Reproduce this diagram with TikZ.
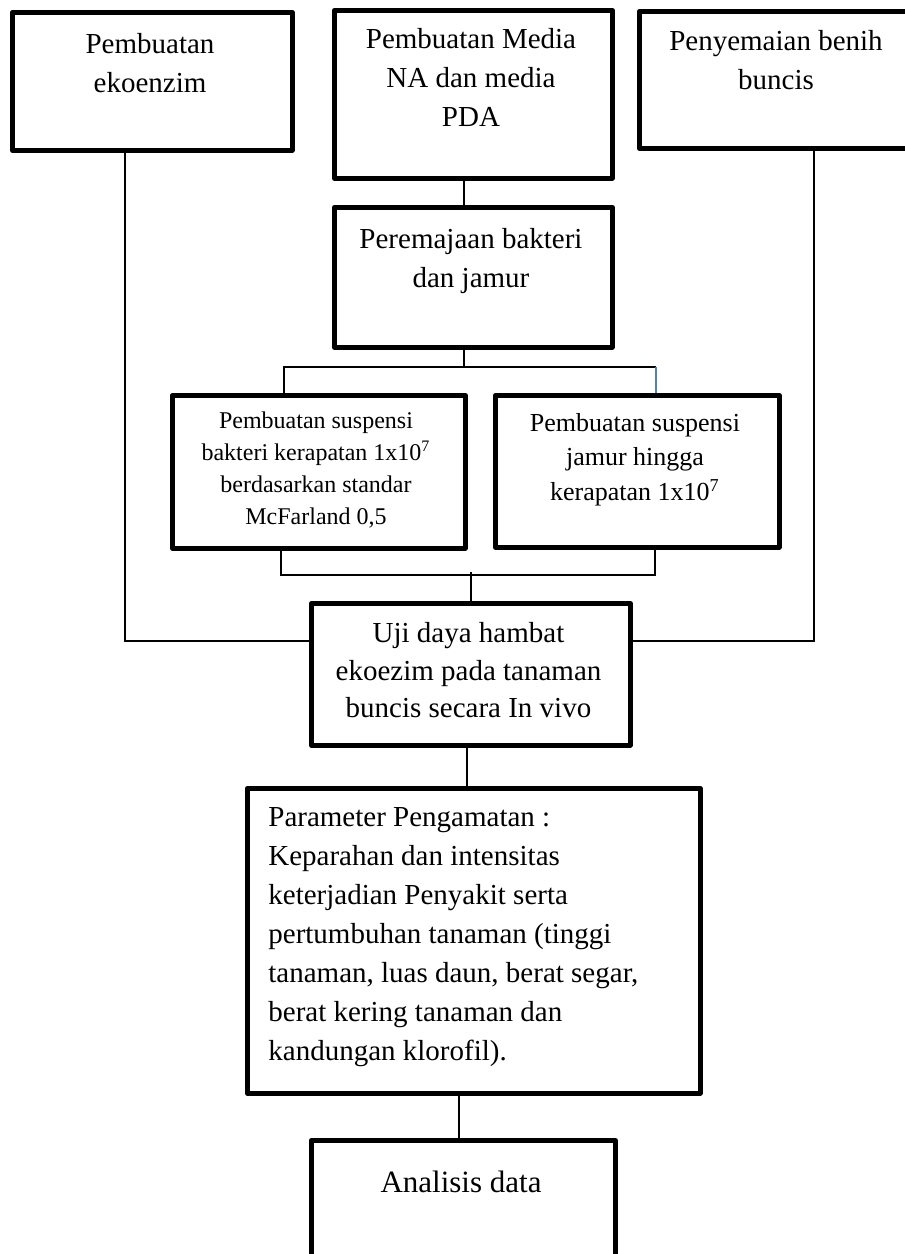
\documentclass[tikz,border=0pt]{standalone}
\usepackage{fontspec}
\setmainfont{Liberation Serif}
\definecolor{tickblue}{RGB}{79,129,189}
\begin{document}
\begin{tikzpicture}[x=0.5pt,y=-0.5pt,
  box/.style={draw, line width=2.25pt, line join=round, inner sep=0pt, anchor=north west},
  conn/.style={line width=0.75pt},
  big/.style={inner sep=0pt, align=center, anchor=north, font=\fontsize{14.5}{19.5}\selectfont},
  smalltxt/.style={inner sep=0pt, align=center, anchor=north, font=\fontsize{12}{16}\selectfont},
  midtxt/.style={inner sep=0pt, align=center, anchor=north, font=\fontsize{13}{17.25}\selectfont},
]
\useasboundingbox (0,0) rectangle (905,1254);
% boxes
\node[box, minimum width=140pt, minimum height=69pt] (b1) at (10,10) {};
\node[box, minimum width=139pt, minimum height=84pt] (b2) at (332,8) {};
\node[box, minimum width=139pt, minimum height=68.5pt] (b3) at (637,9) {};
\node[box, minimum width=139pt, minimum height=70pt] (b4) at (332,205) {};
\node[box, minimum width=146.5pt, minimum height=76.5pt] (b5) at (170,393) {};
\node[box, minimum width=142pt, minimum height=76pt] (b6) at (493,393) {};
\node[box, minimum width=159.5pt, minimum height=71pt] (b7) at (309,601) {};
\node[box, minimum width=226.5pt, minimum height=152.5pt] (b8) at (245,786) {};
\node[box, minimum width=152pt, minimum height=76pt] (b9) at (309,1138) {};
% texts
\node[big] (t1) at (150,33) {Pembuatan\\ekoenzim};
\node[big] (t2) at (471,28) {Pembuatan Media\\NA dan media\\PDA};
\node[big] (t3) at (776,30) {Penyemaian benih\\buncis};
\node[big] (t4) at (471,228) {Peremajaan bakteri\\dan jamur};
\node[smalltxt] (t5) at (316,411) {Pembuatan suspensi\\bakteri kerapatan 1x10\textsuperscript{7}\\berdasarkan standar\\McFarland 0,5};
\node[midtxt] (t6) at (635,413) {Pembuatan suspensi\\jamur hingga\\kerapatan 1x10\textsuperscript{7}};
\node[big, font=\fontsize{14.5}{18.75}\selectfont] (t7) at (468.5,622) {Uji daya hambat\\ekoezim pada tanaman\\buncis secara In vivo};
\node[big, align=left, anchor=north west] (t8) at (268,807) {Parameter Pengamatan :\\Keparahan dan intensitas\\keterjadian Penyakit serta\\pertumbuhan tanaman (tinggi\\tanaman, luas daun, berat segar,\\berat kering tanaman dan\\kandungan klorofil).};
\node[big, font=\fontsize{15.5}{19.5}\selectfont] (t9) at (461,1171) {Analisis data};
% connectors
\coordinate (jL) at (125,641);
\coordinate (jR) at (814,641);
\draw[conn] (jL |- b1.south) -- (jL) -- (jL -| b7.west);
\draw[conn] (jR |- b3.south) -- (jR) -- (jR -| b7.east);
\coordinate (m1) at (464,0);
\draw[conn] (m1 |- b2.south) -- (m1 |- b4.north);
\coordinate (s1) at (464,367);
\coordinate (s1l) at (284,367);
\coordinate (s1r) at (656,367);
\draw[conn] (s1 |- b4.south) -- (s1);
\draw[conn] (s1l |- b5.north) -- (s1l) -- (s1r);
\draw[conn, tickblue] (s1r) -- (s1r |- b6.north);
\coordinate (s2l) at (281,575);
\coordinate (s2r) at (655,575);
\coordinate (s2c) at (471,572);
\draw[conn] (s2l |- b5.south) -- (s2l) -- (s2r) -- (s2r |- b6.south);
\draw[conn] (s2c) -- (s2c |- b7.north);
\coordinate (m2) at (467,0);
\draw[conn] (m2 |- b7.south) -- (m2 |- b8.north);
\coordinate (m3) at (459,0);
\draw[conn] (m3 |- b8.south) -- (m3 |- b9.north);
\end{tikzpicture}
\end{document}
